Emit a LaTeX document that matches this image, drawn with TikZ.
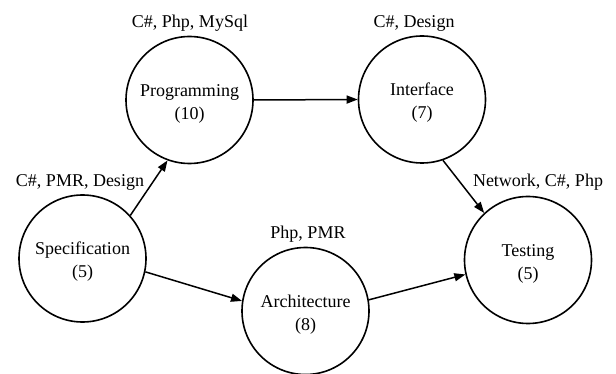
\documentclass[tikz,border=0pt]{standalone}
\usepackage{fontspec}
\setmainfont{Liberation Serif}
\usetikzlibrary{arrows.meta}
\begin{document}
\begin{tikzpicture}[x=1pt,y=-1pt,
  task/.style={draw,circle,line width=1.6pt,minimum size=127pt,inner sep=0pt,
    label={[yshift=-3.5pt,align=center,inner sep=0pt,
      font=\fontsize{18}{23}\selectfont]center:#1}},
  skills/.style={inner sep=0pt,font=\fontsize{18}{23}\selectfont},
  flow/.style={line width=1.5pt,-{Triangle[length=11pt,width=8pt]}}]
\useasboundingbox (0,0) rectangle (616,374);
% tasks
\node[task={Specification\\(5)}] (spec) at (82.5,258.5) {};
\node[task={Programming\\(10)}] (prog) at (189.5,100) {};
\node[task={Interface\\(7)}] (intf) at (422,99.5) {};
\node[task={Architecture\\(8)}] (arch) at (305.5,311) {};
\node[task={Testing\\(5)}] (test) at (528,260) {};
% skill labels
\node[skills] (lprog) at (190,23) {C\#, Php, MySql};
\node[skills] (lintf) at (414,23) {C\#, Design};
\node[skills] (lspec) at (80,182) {C\#, PMR, Design};
\node[skills] (larch) at (308,234) {Php, PMR};
\node[skills] (ltest) at (538,182) {Network, C\#, Php};
% dependencies
\draw[flow] (spec.42) -- (prog.250);
\draw[flow] (prog.east) -- (intf.west);
\draw[flow] (intf.-71) -- (test.133);
\draw[flow] (spec.-12.5) -- (arch.171);
\draw[flow] (arch.10) -- (test.193);
\end{tikzpicture}
\end{document}
